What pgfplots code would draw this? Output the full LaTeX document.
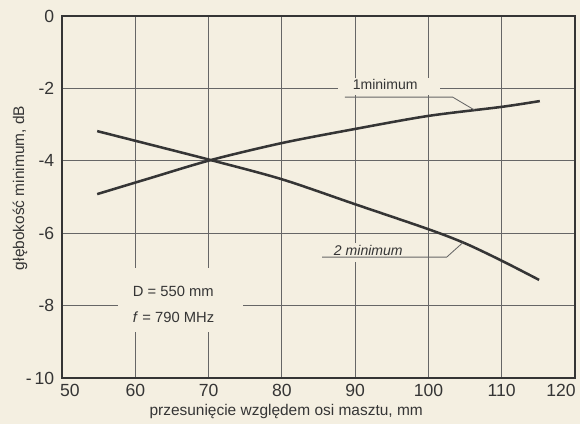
\documentclass[border=0pt]{standalone}
\usepackage{fontspec}
\setmainfont{Liberation Sans}
\usepackage{pgfplots}
\pgfplotsset{compat=1.18}
\definecolor{Paper}{HTML}{F4EFE1}
\definecolor{Ink}{HTML}{353535}
\definecolor{Grid}{HTML}{666666}

\begin{document}
\begin{tikzpicture}
% page area: 580x424 px at 0.025 cm/px, axis origin at px (62,378)
\path[use as bounding box] (-1.55,-1.15) rectangle (12.95,9.45);
\fill[Paper] (-1.55,-1.15) rectangle (12.95,9.45);
\begin{axis}[
  scale only axis,width=12.825cm,height=9.05cm,
  at={(0,0)},anchor=south west,
  xmin=50,xmax=120,ymin=-10,ymax=0,
  xtick={50,60,70,80,90,100,110,120},
  xticklabels={\kern0.4cm50,60,70,80,90,100,110,120\kern0.7cm},
  ytick={-10,-8,-6,-4,-2,0},
  yticklabels={-\,10,-8,-6,-4,-2,0},
  grid=major,grid style={draw=Grid,line width=0.6pt},
  axis line style={draw=Ink,line width=1.4pt},
  tick style={draw=none},
  tick label style={font=\fontsize{12.5}{14}\selectfont,text=Ink},
  yticklabel style={xshift=-2pt},
  xticklabel style={yshift=-1pt},
  xlabel={przesunięcie względem osi masztu, mm},
  ylabel={głębokość minimum, dB},
  label style={font=\fontsize{11}{13}\selectfont,text=Ink},
  xlabel style={at={([yshift=-0.85cm]axis description cs:0.437,0)},anchor=center},
  ylabel style={at={([xshift=-1.05cm]axis description cs:0,0.525)},anchor=center},
  clip=false
]
% gaps in the grid behind the annotations
\fill[Paper] (axis cs:87.6,-1.71) rectangle (axis cs:101.6,-2.18);
\fill[Paper] (axis cs:85.9,-6.27) rectangle (axis cs:97.5,-6.80);
\fill[Paper] (axis cs:57.6,-6.96) rectangle (axis cs:74.7,-8.73);

% 1 minimum
\addplot[Ink,line width=1.8pt,smooth] coordinates {
  (54.8,-4.92)(62,-4.48)(70.3,-3.98)(80,-3.51)(90,-3.12)(100,-2.76)(110,-2.51)(115.2,-2.35)};
% 2 minimum
\addplot[Ink,line width=1.8pt,smooth] coordinates {
  (54.8,-3.18)(62,-3.55)(70.3,-3.98)(80,-4.51)(90,-5.20)(100,-5.89)(105,-6.28)(110,-6.76)(115.1,-7.29)};

\node[font=\fontsize{10}{12}\selectfont,text=Ink] at (axis cs:94.1,-1.9) {1minimum};
\draw[Grid,line width=0.6pt] (axis cs:88.6,-2.24) -- (axis cs:103.3,-2.24) -- (axis cs:106.3,-2.60);
\node[font=\itshape\fontsize{10}{12}\selectfont,text=Ink] at (axis cs:91.8,-6.49) {2 minimum};
\draw[Grid,line width=0.6pt] (axis cs:85.5,-6.66) -- (axis cs:102.5,-6.66) -- (axis cs:104.7,-6.26);

\node[font=\fontsize{10.5}{12}\selectfont,text=Ink,anchor=west] at (axis cs:59.0,-7.60) {D = 550 mm};
\node[font=\fontsize{10.5}{12}\selectfont,text=Ink,anchor=west] at (axis cs:59.0,-8.31) {\textit{f} = 790 MHz};
\end{axis}
\end{tikzpicture}
\end{document}
